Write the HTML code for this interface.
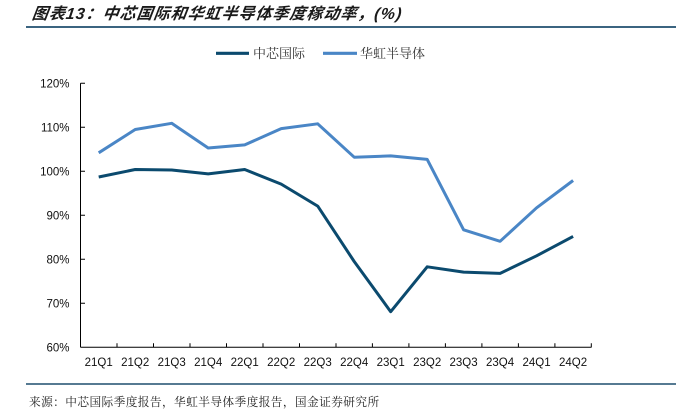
<!DOCTYPE html>
<html><head><meta charset="utf-8"><style>
html,body{margin:0;padding:0;background:#fff;}
svg{display:block;}
</style></head><body>
<svg width="676" height="416" viewBox="0 0 676 416" xmlns="http://www.w3.org/2000/svg">
<text x="32" y="19" font-family="'Liberation Sans','Noto Sans CJK SC',sans-serif" font-size="16" font-weight="bold" font-style="italic" fill="#1a1a1a" letter-spacing="1.0" transform="skewX(-8) translate(2,0)">图表13：中芯国际和华虹半导体季度稼动率，(%)</text>
<line x1="26" y1="27" x2="676" y2="27" stroke="#1f4e6e" stroke-width="1.8"/>
<line x1="216" y1="53.3" x2="249" y2="53.3" stroke="#0b4a6e" stroke-width="3.2"/>
<text x="253" y="58" font-family="'Noto Serif CJK SC',serif" font-size="13" fill="#333">中芯国际</text>
<line x1="323" y1="53.3" x2="357" y2="53.3" stroke="#4a86c6" stroke-width="3.2"/>
<text x="360" y="58" font-family="'Noto Serif CJK SC',serif" font-size="13" fill="#333">华虹半导体</text>
<g font-family="'Liberation Sans',sans-serif" font-size="11.5" fill="#111" text-anchor="end">
<text x="69.5" y="87.5">120%</text>
<text x="69.5" y="131.5">110%</text>
<text x="69.5" y="175.5">100%</text>
<text x="69.5" y="219.5">90%</text>
<text x="69.5" y="263.5">80%</text>
<text x="69.5" y="307.5">70%</text>
<text x="69.5" y="351.5">60%</text>
</g>
<g stroke="#000" stroke-width="1" fill="none">
<line x1="80.5" y1="83.3" x2="80.5" y2="347.3"/>
<line x1="80.5" y1="347.3" x2="591.5" y2="347.3"/>
<path d="M80.5 83.3H85M80.5 127.3H85M80.5 171.3H85M80.5 215.3H85M80.5 259.3H85M80.5 303.3H85"/>
<path d="M117 347.3V343.3M153.5 347.3V343.3M190 347.3V343.3M226.5 347.3V343.3M263 347.3V343.3M299.5 347.3V343.3M336 347.3V343.3M372.4 347.3V343.3M408.9 347.3V343.3M445.4 347.3V343.3M481.9 347.3V343.3M518.4 347.3V343.3M554.9 347.3V343.3M591.3 347.3V343.3"/>
</g>
<g font-family="'Liberation Sans',sans-serif" font-size="11.5" fill="#111" text-anchor="middle">
<text x="98.7" y="366">21Q1</text>
<text x="135.2" y="366">21Q2</text>
<text x="171.7" y="366">21Q3</text>
<text x="208.2" y="366">21Q4</text>
<text x="244.7" y="366">22Q1</text>
<text x="281.2" y="366">22Q2</text>
<text x="317.7" y="366">22Q3</text>
<text x="354.2" y="366">22Q4</text>
<text x="390.7" y="366">23Q1</text>
<text x="427.2" y="366">23Q2</text>
<text x="463.6" y="366">23Q3</text>
<text x="500.1" y="366">23Q4</text>
<text x="536.6" y="366">24Q1</text>
<text x="573.1" y="366">24Q2</text>
</g>
<polyline fill="none" stroke="#4a86c6" stroke-width="3" stroke-linejoin="round" points="98.7,152.8 135.2,129.5 171.7,123.3 208.2,148.0 244.7,144.9 281.2,128.6 317.7,123.8 354.2,157.2 390.7,155.9 427.2,159.4 463.6,229.8 500.1,241.3 536.6,207.8 573.1,180.5"/>
<polyline fill="none" stroke="#0b4a6e" stroke-width="3" stroke-linejoin="round" points="98.7,177.0 135.2,169.5 171.7,170.0 208.2,173.9 244.7,169.5 281.2,184.1 317.7,206.1 354.2,261.5 390.7,311.7 427.2,266.8 463.6,272.1 500.1,273.4 536.6,255.8 573.1,236.4"/>
<line x1="26" y1="384" x2="676" y2="384" stroke="#1f4e6e" stroke-width="1.5"/>
<text x="29" y="406" font-family="'Noto Serif CJK SC',serif" font-size="11.7" fill="#222" letter-spacing="0.4">来源：中芯国际季度报告，华虹半导体季度报告，国金证券研究所</text>
</svg>
</body></html>
